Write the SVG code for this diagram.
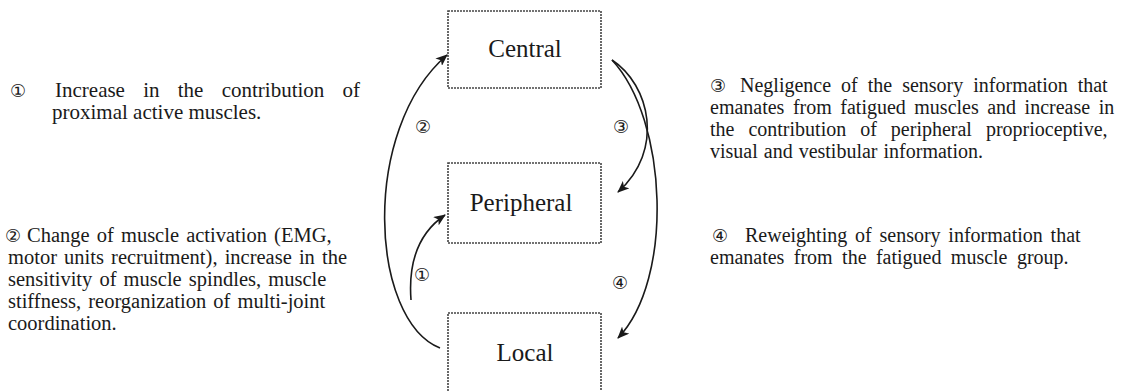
<svg xmlns="http://www.w3.org/2000/svg" width="1121" height="391" viewBox="0 0 1121 391">
<style>
.box{fill:#fff;stroke:#444;stroke-width:1.6;stroke-dasharray:2 1}
.nt{font-family:"Liberation Serif","Times New Roman",serif;font-size:25px;fill:#1a1a1a;text-anchor:middle}
.tx{font-family:"Liberation Serif","Times New Roman",serif;font-size:21px;fill:#1a1a1a}
.t2{font-family:"Liberation Serif","Times New Roman",serif;font-size:20.5px;fill:#1a1a1a}
.t3{font-family:"Liberation Serif","Times New Roman",serif;font-size:20px;fill:#1a1a1a}
.cn{font-family:"DejaVu Sans",sans-serif;font-size:18px;fill:#1a1a1a}
.ar{fill:none;stroke:#1a1a1a;stroke-width:1.6;marker-end:url(#ah)}
</style>
<defs>
<marker id="ah" viewBox="0 0 12 10" refX="11" refY="5" markerWidth="12" markerHeight="10" markerUnits="userSpaceOnUse" orient="auto">
<path d="M0,0 L12,5 L0,10 L3,5 Z" fill="#1a1a1a"/>
</marker>
</defs>
<rect width="1121" height="391" fill="#fff"/>
<g id="central"><rect class="box" x="448" y="11" width="153" height="77"/><text class="nt" x="525" y="57">Central</text></g>
<g id="peripheral"><rect class="box" x="448" y="163" width="153" height="80"/><text class="nt" x="521" y="211">Peripheral</text></g>
<g id="local"><rect class="box" x="448" y="313" width="153" height="90"/><text class="nt" x="525" y="361">Local</text></g>
<g id="connectors">
<path class="ar" d="M440,348 C370,320 360,130 447,55"/>
<path class="ar" d="M411,300 C408,260 420,232 445,215"/>
<path class="ar" d="M612,60 C650,85 665,150 618,192"/>
<path class="ar" d="M612,60 C668,120 674,280 618,338"/>
<text class="cn" x="423" y="133" text-anchor="middle">②</text>
<text class="cn" x="621" y="133" text-anchor="middle">③</text>
<text class="cn" x="422" y="281" text-anchor="middle">①</text>
<text class="cn" x="620" y="289" text-anchor="middle">④</text>
</g>
<g id="note1">
<text class="cn" x="10" y="97">①</text>
<text class="tx" x="55" y="97" word-spacing="13">Increase in the contribution of</text>
<text class="tx" x="52" y="119">proximal active muscles.</text>
</g>
<g id="note2">
<text class="cn" x="5" y="242">②</text>
<text class="t2" x="27" y="242" word-spacing="2">Change of muscle activation (EMG,</text>
<text class="t2" x="8" y="264" word-spacing="2">motor units recruitment), increase  in the</text>
<text class="t2" x="8" y="286" word-spacing="2">sensitivity of muscle spindles, muscle</text>
<text class="t2" x="8" y="308" word-spacing="2">stiffness, reorganization of multi-joint</text>
<text class="t2" x="8" y="330">coordination.</text>
</g>
<g id="note3">
<text class="cn" x="710" y="92">③</text>
<text class="t3" x="740" y="92" word-spacing="5">Negligence of the sensory information that</text>
<text class="t3" x="710" y="114" word-spacing="3.5">emanates from fatigued muscles and increase in</text>
<text class="t3" x="710" y="136" word-spacing="9">the contribution of peripheral proprioceptive,</text>
<text class="t3" x="710" y="158" word-spacing="1">visual and vestibular information.</text>
</g>
<g id="note4">
<text class="cn" x="712" y="242">④</text>
<text class="t3" x="745" y="242" word-spacing="2.8">Reweighting of sensory information that</text>
<text class="t3" x="710" y="264" word-spacing="4.4">emanates from the fatigued muscle group.</text>
</g>
</svg>
